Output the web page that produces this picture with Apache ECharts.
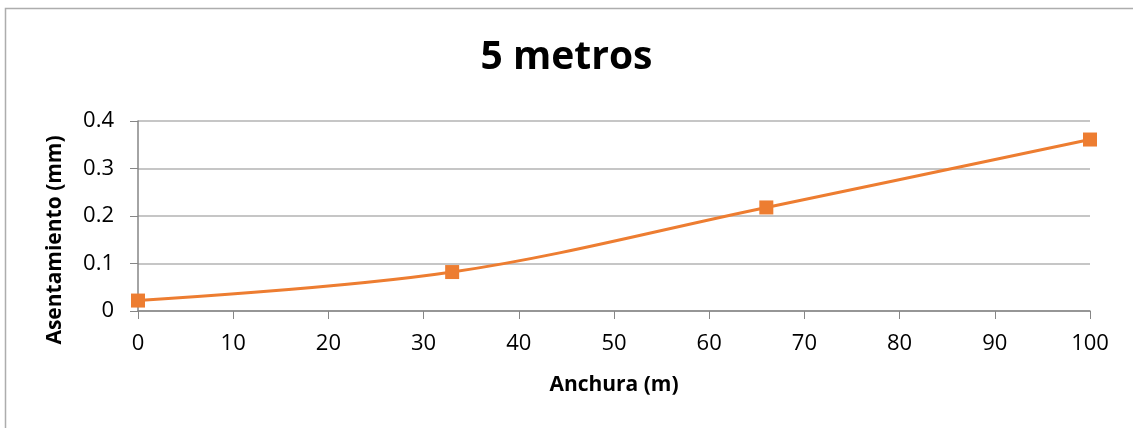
<!DOCTYPE html>
<html>
<head>
<meta charset="utf-8">
<script src="https://cdn.jsdelivr.net/npm/echarts@6/dist/echarts.min.js"></script>
<style>
  html, body { margin: 0; padding: 0; background: #fff; }
  #main { width: 1133px; height: 428px; }
</style>
</head>
<body>
<div id="main"></div>
<script>
// datos
var anchura = [0, 33, 66, 100];
var asentamiento = [0.022, 0.082, 0.218, 0.361];
var tituloTexto = "5 metros";

var chart = echarts.init(document.getElementById("main"));

var puntos = [];
for (var i = 0; i < anchura.length; i++) {
  puntos.push([anchura[i], asentamiento[i]]);
}

var fuente = "'Open Sans', 'Liberation Sans', sans-serif";

var option = {
  backgroundColor: "#fff",
  animation: false,
  graphic: [
    {
      type: "rect",
      shape: { x: 5.5, y: 8.5, width: 1300, height: 600 },
      style: { fill: "none", stroke: "#adadad", lineWidth: 1.5 },
      silent: true
    }
  ],
  title: {
    text: tituloTexto,
    left: "center",
    top: 33,
    textStyle: {
      color: "#000",
      fontFamily: fuente,
      fontSize: 39,
      fontWeight: "bold"
    }
  },
  grid: {
    left: 138,
    right: 43,
    top: 121,
    bottom: 117
  },
  xAxis: {
    type: "value",
    min: 0,
    max: 100,
    interval: 10,
    name: "Anchura (m)",
    nameLocation: "middle",
    nameGap: 64,
    nameTextStyle: {
      color: "#000",
      fontFamily: fuente,
      fontSize: 21,
      fontWeight: "bold"
    },
    axisLine: { show: true, lineStyle: { color: "#868686", width: 1.5 } },
    axisTick: { show: true, length: 8, lineStyle: { color: "#868686" } },
    axisLabel: {
      color: "#000",
      fontFamily: fuente,
      fontSize: 22,
      margin: 22
    },
    splitLine: { show: false }
  },
  yAxis: {
    type: "value",
    min: 0,
    max: 0.4,
    interval: 0.1,
    name: "Asentamiento (mm)",
    nameLocation: "middle",
    nameRotate: 90,
    nameGap: 72,
    nameTextStyle: {
      color: "#000",
      fontFamily: fuente,
      fontSize: 21,
      fontWeight: "bold",
      padding: [0, 48, 0, 0]
    },
    axisLine: { show: true, lineStyle: { color: "#868686", width: 1.5 } },
    axisTick: { show: true, length: 8, lineStyle: { color: "#868686" } },
    axisLabel: {
      color: "#000",
      fontFamily: fuente,
      fontSize: 22,
      margin: 24,
      formatter: function (v) { return v === 0 ? "0" : v.toFixed(1); }
    },
    splitLine: { show: true, lineStyle: { color: "#b3b3b3", width: 1.5 } }
  },
  series: [
    {
      name: tituloTexto,
      type: "line",
      data: puntos,
      smooth: 0.35,
      symbol: "rect",
      symbolSize: 14,
      lineStyle: { color: "#ed7d31", width: 3 },
      itemStyle: { color: "#ed7d31" }
    }
  ]
};

chart.setOption(option);
</script>
</body>
</html>
